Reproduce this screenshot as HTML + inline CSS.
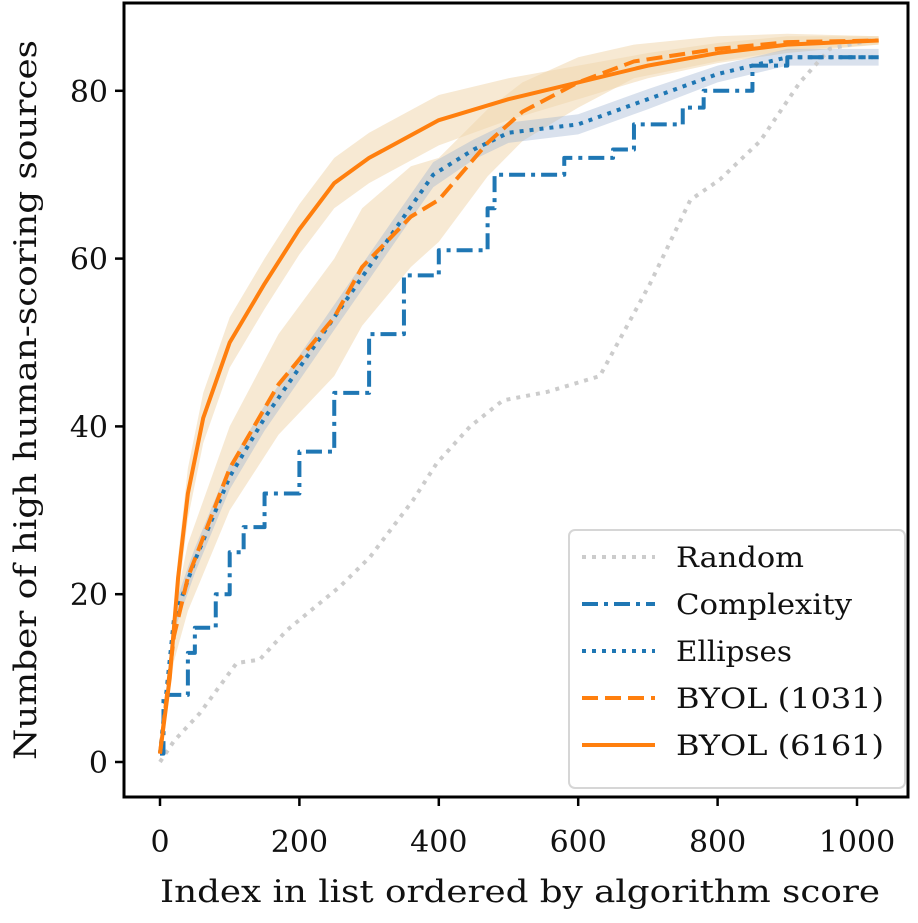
<!DOCTYPE html>
<html><head><meta charset="utf-8"><style>
body{margin:0;background:#fff}
svg text{font-family:"DejaVu Serif","Liberation Serif",serif;fill:#111}
</style></head><body>
<svg id="c" width="918" height="918" viewBox="0 0 918 918"></svg>
<script>
const xTicks=[0,200,400,600,800,1000];
const yTicks=[0,20,40,60,80];
const x6161=[0,14,26,40,62,100,150,200,250,300,400,500,600,700,800,900,1031];
const y6161=[1,10,22,32,41,50,57,63.5,69,72,76.5,79,81,83,84.5,85.5,86];
const s6161=[0,2,2.5,3,3,3,3,3,3,3,3,2.5,2,1.5,1.2,1,0.5];
const x1031=[0,20,40,100,170,250,290,360,400,470,520,600,680,800,900,1031];
const y1031=[1,15,22,35,45,53,59,65,67,73.8,77.5,81,83.5,85,85.8,86];
const s1031=[0,3,4,5,6,7,7,6,5,4,3.5,3,2,1.5,1,0.5];
const xEll=[0,20,50,100,150,200,250,300,350,392,450,500,600,700,800,900,1031];
const yEll=[1,17,24,34,41,47,53,59,65,70,73,75,76,79,82,84,84];
const sEll=[0,1.5,1.5,1.5,1.5,1.5,1.5,1.5,1.5,1.5,1.2,1.2,1.2,1.2,1,1,1];
const xCx=[0,5,30,40,50,70,80,100,120,150,200,250,300,350,400,460,470,480,550,580,650,680,750,780,850,900,1031];
const yCx=[1,8,8,13,16,16,20,25,28,32,37,44,51,58,61,61,66,70,70,72,73,76,78,80,83,84,84];
const xRnd=[0,20,57,110,143,182,258,301,363,397,445,492,555,631,667,703,761,803,861,918,961,1018,1031];
const yRnd=[0,2.5,5.8,11.8,12.2,15.7,20.9,24.4,31.2,35.6,40,43.1,44.1,46,51.5,57,67,69.4,74,81,85,86,86];

const X=v=>160+v*0.697, Y=v=>762-v*8.39;
const svg=document.getElementById('c');
const NS='http://www.w3.org/2000/svg';
function mk(t,a){const e=document.createElementNS(NS,t);for(const k in a)e.setAttribute(k,a[k]);svg.appendChild(e);return e;}
function band(xs,ys,ss,fill,name){
  let d='M'+xs.map((x,i)=>X(x)+','+Y(ys[i]+ss[i])).join('L');
  for(let i=xs.length-1;i>=0;i--)d+='L'+X(xs[i])+','+Y(ys[i]-ss[i]);
  const e=mk('path',{d:d+'Z',fill:fill});
  
  
}
function line(xs,ys,st,w,dash,name,step){
  let pts=[];
  xs.forEach((x,i)=>{if(step&&i>0)pts.push(X(x)+','+Y(ys[i-1]));pts.push(X(x)+','+Y(ys[i]));});
  const e=mk('polyline',{points:pts.join(' '),fill:'none',stroke:st,'stroke-width':w,'stroke-dasharray':dash,'stroke-linejoin':'round'});
  
  
}
band(x1031,y1031,s1031,'rgba(240,215,175,0.55)','band-byol-1031');
band(x6161,y6161,s6161,'rgba(240,215,175,0.55)','band-byol-6161');
band(xEll,yEll,sEll,'rgba(160,180,210,0.4)','band-ellipses');
line(xRnd,yRnd,'#cccccc',4,'4,6','line-random',false);
line(xCx,yCx,'#1f77b4',4,'16,6,4,6','line-complexity',true);
line(xEll,yEll,'#1f77b4',4,'4,6','line-ellipses',false);
line(x1031,y1031,'#ff7f0e',4,'16,7','line-byol-1031',false);
line(x6161,y6161,'#ff7f0e',4,'','line-byol-6161',false);
const ax=mk('rect',{x:124,y:3,width:784,height:794,fill:'none',stroke:'#000','stroke-width':3});

xTicks.forEach(v=>{
  const t=mk('line',{x1:X(v),x2:X(v),y1:797,y2:806,stroke:'#000','stroke-width':2.5});
  
  const l=mk('text',{x:X(v),y:852,'text-anchor':'middle','font-size':30});l.textContent=v;
  
});
yTicks.forEach(v=>{
  const t=mk('line',{x1:115,x2:124,y1:Y(v),y2:Y(v),stroke:'#000','stroke-width':2.5});
  
  const l=mk('text',{x:108,y:Y(v)+11,'text-anchor':'end','font-size':30});l.textContent=v;
  
});
const xl=mk('text',{x:520,y:902,'text-anchor':'middle','font-size':31,textLength:720,lengthAdjust:'spacingAndGlyphs'});xl.textContent='Index in list ordered by algorithm score';

const yl=mk('text',{x:0,y:0,'text-anchor':'middle','font-size':31,textLength:720,lengthAdjust:'spacingAndGlyphs',transform:'translate(36,400) rotate(-90)'});yl.textContent='Number of high human-scoring sources';

const lg=mk('rect',{x:569,y:530,width:336,height:258,rx:6,fill:'rgba(255,255,255,0.85)',stroke:'#d6d6d6','stroke-width':2});

const labels=['Random','Complexity','Ellipses','BYOL (1031)','BYOL (6161)'];
const lens=[128,176,116,208,208];
const cols=['#cccccc','#1f77b4','#1f77b4','#ff7f0e','#ff7f0e'];
const dashes=['4,6','16,6,4,6','4,6','16,7',''];
labels.forEach((s,i)=>{
  const y=557+i*47;
  const l=mk('line',{x1:582,x2:655,y1:y,y2:y,stroke:cols[i],'stroke-width':4,'stroke-dasharray':dashes[i]});
  
  const t=mk('text',{x:676,y:y+10,'font-size':28,textLength:lens[i],lengthAdjust:'spacingAndGlyphs'});t.textContent=s;
  
});
</script>
</body></html>
